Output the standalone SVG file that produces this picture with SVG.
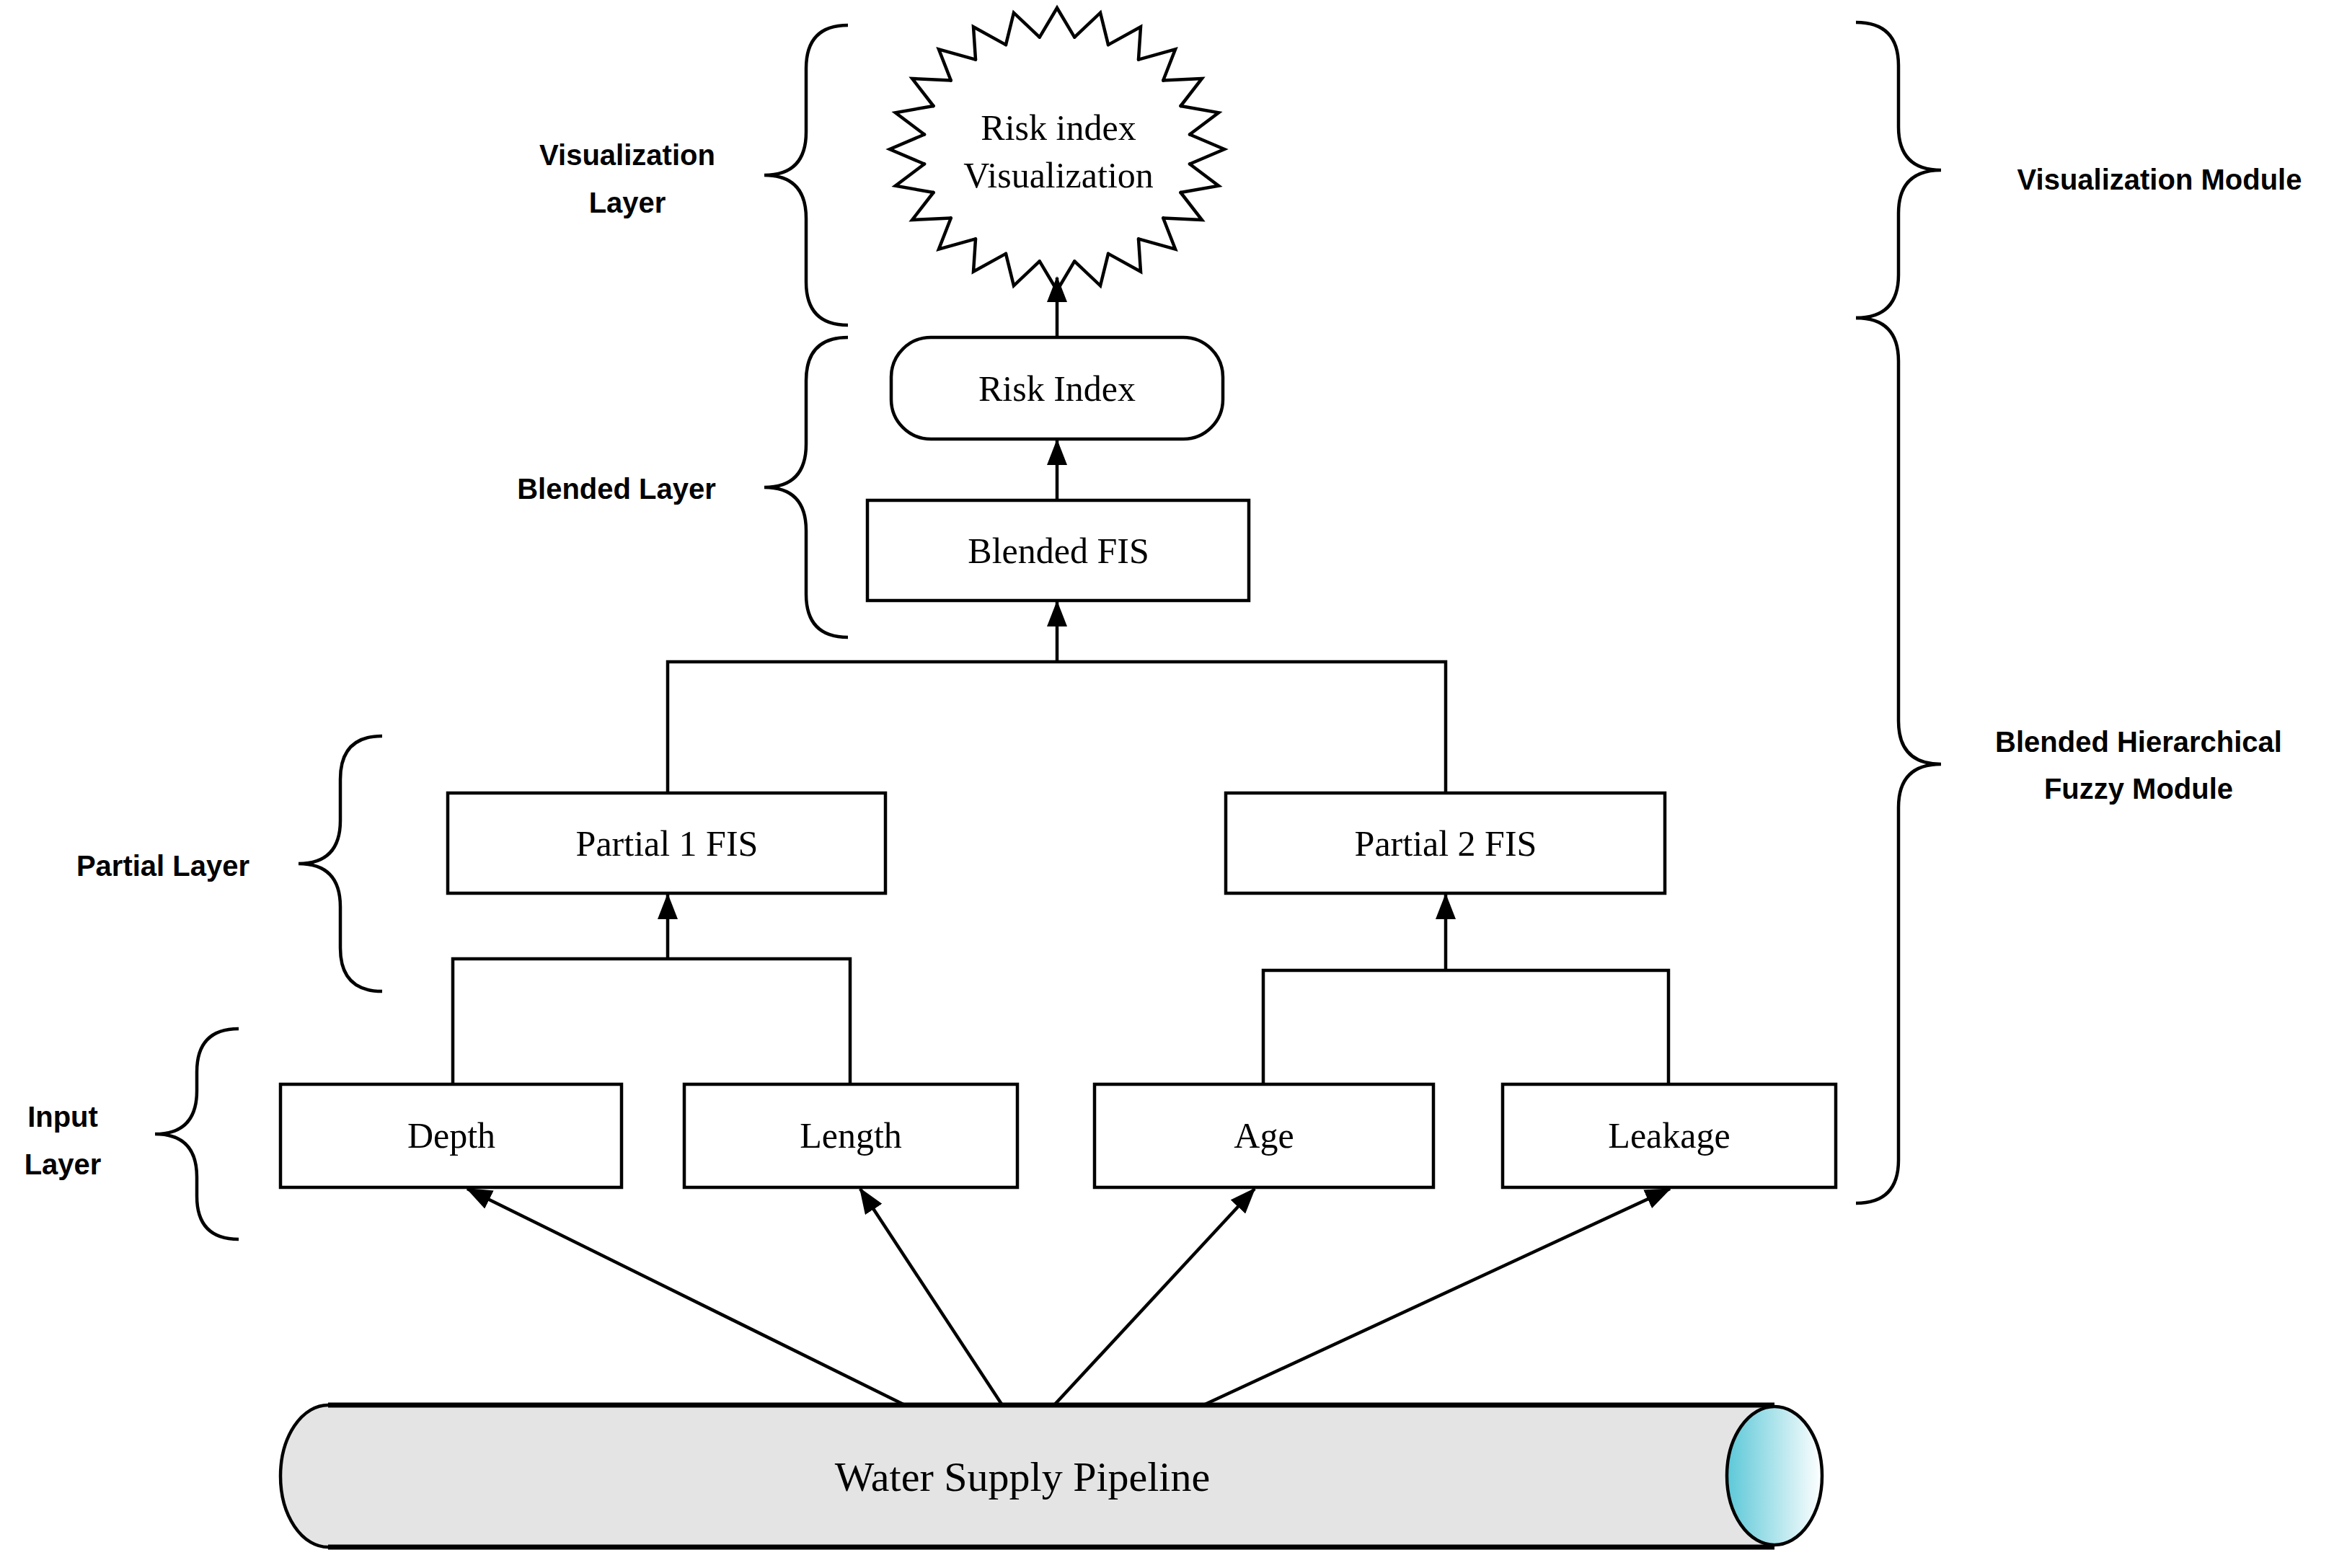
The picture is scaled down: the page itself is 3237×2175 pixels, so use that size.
<svg xmlns="http://www.w3.org/2000/svg" xmlns:xlink="http://www.w3.org/1999/xlink" width="3237" height="2175" viewBox="0 0 3237 2175">
<style>
.box{fill:#fff;stroke:#000;stroke-width:4.5}
.ln{fill:none;stroke:#000;stroke-width:4.5}
.br{fill:none;stroke:#000;stroke-width:4.5}
.nt{font-family:"Liberation Serif",serif;font-size:50px;text-anchor:middle;fill:#000}
.st{font-family:"Liberation Sans",sans-serif;font-size:40px;font-weight:bold;text-anchor:middle;fill:#000}
</style>
<defs>
<marker id="ah" markerUnits="userSpaceOnUse" markerWidth="36" markerHeight="28" refX="34" refY="14" orient="auto"><path d="M0,0 L36,14 L0,28 Z" fill="#000"/></marker>
<polyline id="spike" points="-0.1044,-0.7931 0,-1 0.1044,-0.7931" fill="none" stroke="#000" stroke-width="4.5" vector-effect="non-scaling-stroke" stroke-linejoin="miter" stroke-linecap="round"/>
<linearGradient id="cy" x1="0" y1="0" x2="1" y2="0"><stop offset="0" stop-color="#5cc8d8"/><stop offset="1" stop-color="#ffffff"/></linearGradient>
</defs>
<g id="connectors">
<path class="ln" d="M1466,468 L1466,385" marker-end="url(#ah)"/>
<path class="ln" d="M1466,694 L1466,611" marker-end="url(#ah)"/>
<path class="ln" d="M926,1100 L926,918 L2005,918 L2005,1100"/>
<path class="ln" d="M1466,918 L1466,835" marker-end="url(#ah)"/>
<path class="ln" d="M628,1504 L628,1330 L1179,1330 L1179,1504"/>
<path class="ln" d="M926,1330 L926,1241" marker-end="url(#ah)"/>
<path class="ln" d="M1752,1504 L1752,1346 L2314,1346 L2314,1504"/>
<path class="ln" d="M2005,1346 L2005,1241" marker-end="url(#ah)"/>
<path class="ln" d="M1255,1949 L648,1649" marker-end="url(#ah)"/>
<path class="ln" d="M1390,1949 L1193,1649" marker-end="url(#ah)"/>
<path class="ln" d="M1462,1949 L1740,1649" marker-end="url(#ah)"/>
<path class="ln" d="M1669,1949 L2316,1649" marker-end="url(#ah)"/>
</g>
<g id="viz">
<g transform="translate(1466,207) scale(232,196)">
<use xlink:href="#spike"/><use xlink:href="#spike" transform="rotate(15)"/><use xlink:href="#spike" transform="rotate(30)"/><use xlink:href="#spike" transform="rotate(45)"/><use xlink:href="#spike" transform="rotate(60)"/><use xlink:href="#spike" transform="rotate(75)"/><use xlink:href="#spike" transform="rotate(90)"/><use xlink:href="#spike" transform="rotate(105)"/><use xlink:href="#spike" transform="rotate(120)"/><use xlink:href="#spike" transform="rotate(135)"/><use xlink:href="#spike" transform="rotate(150)"/><use xlink:href="#spike" transform="rotate(165)"/><use xlink:href="#spike" transform="rotate(180)"/><use xlink:href="#spike" transform="rotate(195)"/><use xlink:href="#spike" transform="rotate(210)"/><use xlink:href="#spike" transform="rotate(225)"/><use xlink:href="#spike" transform="rotate(240)"/><use xlink:href="#spike" transform="rotate(255)"/><use xlink:href="#spike" transform="rotate(270)"/><use xlink:href="#spike" transform="rotate(285)"/><use xlink:href="#spike" transform="rotate(300)"/><use xlink:href="#spike" transform="rotate(315)"/><use xlink:href="#spike" transform="rotate(330)"/><use xlink:href="#spike" transform="rotate(345)"/>
</g>
<text class="nt" x="1468" y="194">Risk index</text>
<text class="nt" x="1468" y="260">Visualization</text>
</g>
<g id="riskindex"><rect class="box" x="1236" y="468" width="460" height="141" rx="55"/><text class="nt" x="1466" y="556">Risk Index</text></g>
<g id="blendedfis"><rect class="box" x="1203" y="694" width="529" height="139"/><text class="nt" x="1468" y="781">Blended FIS</text></g>
<g id="partial1"><rect class="box" x="621" y="1100" width="607" height="139"/><text class="nt" x="925" y="1187">Partial 1 FIS</text></g>
<g id="partial2"><rect class="box" x="1700" y="1100" width="609" height="139"/><text class="nt" x="2005" y="1187">Partial 2 FIS</text></g>
<g id="depth"><rect class="box" x="389" y="1504" width="473" height="143"/><text class="nt" x="626" y="1592">Depth</text></g>
<g id="length"><rect class="box" x="949" y="1504" width="462" height="143"/><text class="nt" x="1180" y="1592">Length</text></g>
<g id="age"><rect class="box" x="1518" y="1504" width="470" height="143"/><text class="nt" x="1753" y="1592">Age</text></g>
<g id="leakage"><rect class="box" x="2084" y="1504" width="462" height="143"/><text class="nt" x="2315" y="1592">Leakage</text></g>
<g id="pipe">
<path d="M455,1949 L2461,1949 L2461,2146 L455,2146 A66,98.5 0 0 1 455,1949 Z" fill="#e4e4e4" stroke="none"/>
<path d="M455,1949 L2461,1949 M455,2146 L2461,2146" stroke="#000" stroke-width="7" fill="none"/>
<path d="M455,1949 A66,98.5 0 0 0 455,2146" stroke="#000" stroke-width="4.5" fill="none"/>
<ellipse cx="2461" cy="2047" rx="66" ry="96" fill="url(#cy)" stroke="#000" stroke-width="4.5"/>
<text x="1418" y="2068" font-family="Liberation Serif,serif" font-size="58" text-anchor="middle">Water Supply Pipeline</text>
</g>
<g id="braces">
<path class="br" d="M1176,35 Q1118,35 1118,95 L1118,183 Q1118,243 1060,243 Q1118,243 1118,303 L1118,391 Q1118,451 1176,451"/>
<path class="br" d="M1176,468 Q1118,468 1118,528 L1118,616 Q1118,676 1060,676 Q1118,676 1118,736 L1118,824 Q1118,884 1176,884"/>
<path class="br" d="M530,1021 Q472,1021 472,1081 L472,1138 Q472,1198 414,1198 Q472,1198 472,1258 L472,1315 Q472,1375 530,1375"/>
<path class="br" d="M331,1427 Q273,1427 273,1487 L273,1513 Q273,1573 215,1573 Q273,1573 273,1633 L273,1659 Q273,1719 331,1719"/>
<path class="br" d="M2574,31 Q2633,31 2633,91 L2633,176 Q2633,236 2692,236 Q2633,236 2633,296 L2633,381 Q2633,441 2574,441"/>
<path class="br" d="M2574,441 Q2633,441 2633,501 L2633,1000 Q2633,1060 2692,1060 Q2633,1060 2633,1120 L2633,1609 Q2633,1669 2574,1669"/>
</g>
<g id="labels">
<text class="st" x="870" y="229">Visualization</text>
<text class="st" x="870" y="295">Layer</text>
<text class="st" x="855" y="692">Blended Layer</text>
<text class="st" x="226" y="1215">Partial Layer</text>
<text class="st" x="87" y="1563">Input</text>
<text class="st" x="87" y="1629">Layer</text>
<text class="st" x="2995" y="263">Visualization Module</text>
<text class="st" x="2966" y="1043">Blended Hierarchical</text>
<text class="st" x="2966" y="1108">Fuzzy Module</text>
</g>
</svg>
